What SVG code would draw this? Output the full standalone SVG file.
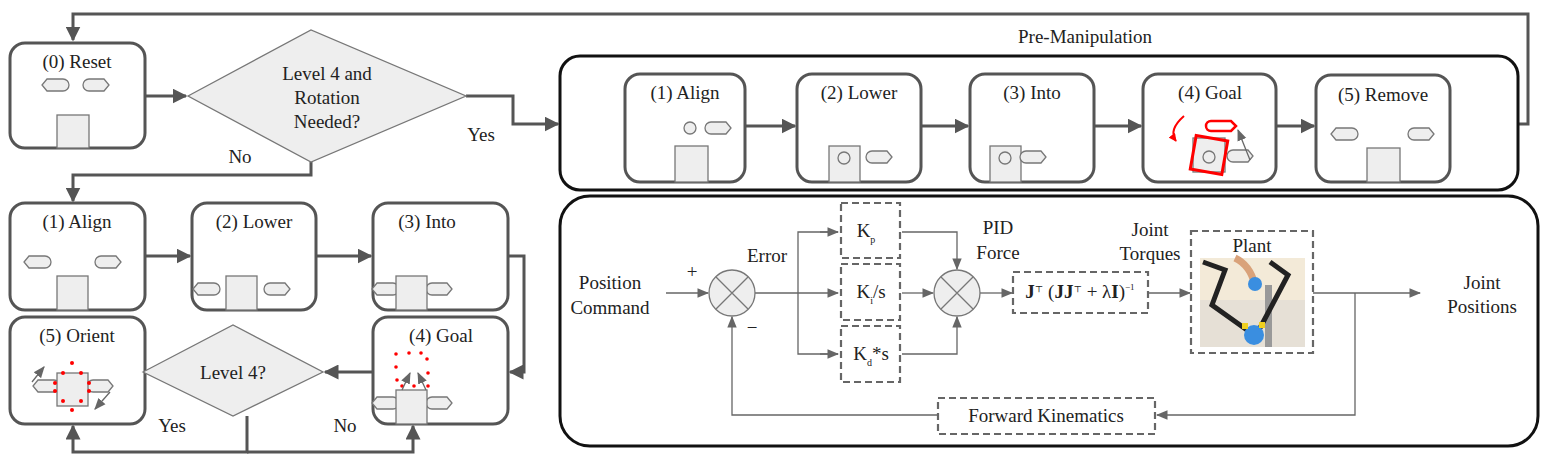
<svg xmlns="http://www.w3.org/2000/svg" width="1557" height="468" viewBox="0 0 1557 468" font-family="'Liberation Serif','DejaVu Serif','Times New Roman',serif">
<defs>
<style>
text{font-family:'Liberation Serif','DejaVu Serif','Times New Roman',serif;fill:#222;font-size:19px;text-anchor:middle}
.node{fill:#fff;stroke:#555;stroke-width:3}
.blk{fill:#eee;stroke:#777;stroke-width:1.3}
.conn{fill:none;stroke:#555;stroke-width:3}
.thin{fill:none;stroke:#666;stroke-width:1.3}
.dash{fill:#fff;stroke:#666;stroke-width:2.2;stroke-dasharray:7 4}
.dia{fill:#eee;stroke:#777;stroke-width:1.3}
.red{fill:red}
</style>
<marker id="ah" viewBox="0 0 10 10" refX="9" refY="5" markerWidth="5" markerHeight="5" orient="auto"><path d="M0,0L10,5L0,10z" fill="#555"/></marker>
<marker id="as" viewBox="0 0 10 10" refX="9" refY="5" markerWidth="9" markerHeight="9" orient="auto"><path d="M0,1L10,5L0,9z" fill="#666"/></marker>
<marker id="ar" viewBox="0 0 10 10" refX="9" refY="5" markerWidth="4" markerHeight="4" orient="auto"><path d="M0,0L10,5L0,10z" fill="red"/></marker>
<path id="gl" d="M5,0H21A6,6 0 0 1 21,12H5L0,6Z" class="blk"/>
<path id="gr" d="M5,0H20L25,6L20,12H5A6,6 0 0 1 5,0Z" class="blk"/>
</defs>

<g id="connectors">
<polyline class="conn" points="1518,124 1528,124 1528,14 73,14 73,40" marker-end="url(#ah)"/>
<line class="conn" x1="145" y1="96" x2="186" y2="96" marker-end="url(#ah)"/>
<polyline class="conn" points="466,96 513,96 513,124 558,124" marker-end="url(#ah)"/>
<polyline class="conn" points="311,162 311,175 73,175 73,201" marker-end="url(#ah)"/>
<line class="conn" x1="145" y1="256" x2="190" y2="256" marker-end="url(#ah)"/>
<line class="conn" x1="316" y1="256" x2="371" y2="256" marker-end="url(#ah)"/>
<polyline class="conn" points="508,256 524,256 524,372 510,372" marker-end="url(#ah)"/>
<line class="conn" x1="373" y1="372" x2="325" y2="372" marker-end="url(#ah)"/>
<polyline class="conn" points="247,416 247,452 73,452 73,426" marker-end="url(#ah)"/>
<polyline class="conn" points="247,452 413,452 413,426" marker-end="url(#ah)"/>
<line class="conn" x1="745" y1="126" x2="795" y2="126" marker-end="url(#ah)"/>
<line class="conn" x1="921" y1="126" x2="968" y2="126" marker-end="url(#ah)"/>
<line class="conn" x1="1094" y1="126" x2="1141" y2="126" marker-end="url(#ah)"/>
<line class="conn" x1="1276" y1="126" x2="1314" y2="126" marker-end="url(#ah)"/>
<line class="thin" x1="666" y1="293" x2="708" y2="293" marker-end="url(#as)"/>
<line class="thin" x1="755" y1="293" x2="838" y2="293" marker-end="url(#as)"/>
<polyline class="thin" points="838,232 798,232 798,354 838,354"/>
<line class="thin" x1="820" y1="232" x2="838" y2="232" marker-end="url(#as)"/>
<line class="thin" x1="820" y1="354" x2="838" y2="354" marker-end="url(#as)"/>
<polyline class="thin" points="902,232 957,232 957,269" marker-end="url(#as)"/>
<line class="thin" x1="902" y1="293" x2="933" y2="293" marker-end="url(#as)"/>
<polyline class="thin" points="902,354 957,354 957,317" marker-end="url(#as)"/>
<line class="thin" x1="980" y1="293" x2="1012" y2="293" marker-end="url(#as)"/>
<line class="thin" x1="1148" y1="293" x2="1190" y2="293" marker-end="url(#as)"/>
<line class="thin" x1="1313" y1="293" x2="1420" y2="293" marker-end="url(#as)"/>
<polyline class="thin" points="1355,293 1355,415 1157,415" marker-end="url(#as)"/>
<polyline class="thin" points="938,415 732,415 732,317" marker-end="url(#as)"/>
</g>

<g id="n0"><rect class="node" x="10" y="43" width="135" height="105" rx="15"/><text x="77" y="68">(0) Reset</text>
<use href="#gl" x="42" y="79"/><use href="#gr" x="84" y="79"/><rect class="blk" x="57" y="115" width="32" height="33"/></g>
<g id="d1"><polygon class="dia" points="188,96 311,30 466,96 311,162"/><text x="327" y="80">Level 4 and</text><text x="327" y="104">Rotation</text><text x="327" y="128">Needed?</text></g>
<text x="481" y="141">Yes</text><text x="240" y="163">No</text>

<g id="l1"><rect class="node" x="10" y="203" width="135" height="107" rx="15"/><text x="77" y="228">(1) Align</text>
<use href="#gl" x="24" y="256"/><use href="#gr" x="96" y="256"/><rect class="blk" x="57" y="276" width="31" height="34"/></g>
<g id="l2"><rect class="node" x="192" y="203" width="124" height="107" rx="15"/><text x="254" y="228">(2) Lower</text>
<use href="#gl" x="193" y="283"/><use href="#gr" x="265" y="283"/><rect class="blk" x="226" y="276" width="31" height="34"/></g>
<g id="l3"><rect class="node" x="373" y="203" width="135" height="107" rx="15"/><text x="427" y="228">(3) Into</text>
<use href="#gl" x="372" y="283"/><use href="#gr" x="427" y="283"/><rect class="blk" x="396" y="276" width="31" height="34"/></g>
<g id="l4"><rect class="node" x="373" y="317" width="135" height="107" rx="15"/><text x="441" y="342">(4) Goal</text>
<use href="#gl" x="372" y="397"/><use href="#gr" x="427" y="397"/><rect class="blk" x="396" y="390" width="31" height="34"/>
<g class="red"><circle cx="396" cy="354" r="1.8"/><circle cx="409" cy="353" r="1.8"/><circle cx="421" cy="353" r="1.8"/><circle cx="427" cy="359" r="1.8"/><circle cx="396" cy="367" r="1.8"/><circle cx="428" cy="373" r="1.8"/><circle cx="397" cy="380" r="1.8"/><circle cx="402" cy="386" r="1.8"/><circle cx="414" cy="386" r="1.8"/><circle cx="428" cy="386" r="1.8"/></g>
<line class="thin" x1="402" y1="390" x2="410" y2="373" marker-end="url(#as)"/><line class="thin" x1="426" y1="390" x2="418" y2="373" marker-end="url(#as)"/></g>
<g id="l5"><rect class="node" x="10" y="317" width="135" height="107" rx="15"/><text x="77" y="342">(5) Orient</text>
<use href="#gl" x="33" y="380"/><use href="#gr" x="88" y="380"/><rect class="blk" x="57" y="373" width="31" height="33"/>
<g class="red"><circle cx="72" cy="363" r="2"/><circle cx="63" cy="373" r="2"/><circle cx="81" cy="373" r="2"/><circle cx="55" cy="383" r="2"/><circle cx="89" cy="383" r="2"/><circle cx="55" cy="391" r="2"/><circle cx="89" cy="391" r="2"/><circle cx="63" cy="401" r="2"/><circle cx="81" cy="401" r="2"/><circle cx="72" cy="410" r="2"/></g>
<line class="thin" x1="32" y1="382" x2="44" y2="367" marker-end="url(#as)"/><line class="thin" x1="110" y1="392" x2="95" y2="409" marker-end="url(#as)"/></g>
<g id="d2"><polygon class="dia" points="143,372 233,325 323,372 233,416"/><text x="233" y="379">Level 4?</text></g>
<text x="172" y="432">Yes</text><text x="345" y="432">No</text>

<text x="1085" y="43">Pre-Manipulation</text>
<g id="pre"><rect x="560" y="56" width="958" height="134" rx="20" fill="none" stroke="#111" stroke-width="3"/>
<g id="p1"><rect class="node" x="625" y="74" width="120" height="108" rx="15"/><text x="685" y="99">(1) Align</text>
<circle class="blk" cx="690" cy="128" r="6"/><use href="#gr" x="706" y="122"/><rect class="blk" x="675" y="146" width="33" height="36"/></g>
<g id="p2"><rect class="node" x="797" y="74" width="124" height="108" rx="15"/><text x="859" y="99">(2) Lower</text>
<rect class="blk" x="829" y="146" width="31" height="36"/><circle class="blk" cx="844" cy="158" r="6"/><use href="#gr" x="867" y="151"/></g>
<g id="p3"><rect class="node" x="970" y="74" width="124" height="108" rx="15"/><text x="1032" y="99">(3) Into</text>
<rect class="blk" x="990" y="146" width="31" height="36"/><circle class="blk" cx="1005" cy="158" r="6"/><use href="#gr" x="1021" y="151"/></g>
<g id="p4"><rect class="node" x="1143" y="74" width="133" height="108" rx="15"/><text x="1210" y="99">(4) Goal</text>
<use href="#gr" x="1228" y="150"/><rect class="blk" x="1193" y="138" width="32" height="34"/>
<rect x="1193" y="138" width="32" height="34" fill="none" stroke="red" stroke-width="3" transform="rotate(10 1209 155)"/><circle class="blk" cx="1209" cy="157" r="6"/>
<path d="M1211,121H1231L1236,126L1231,131H1211A5,5 0 0 1 1211,121Z" fill="#fff" stroke="red" stroke-width="2.5"/>
<line class="thin" x1="1250" y1="160" x2="1238" y2="130" marker-end="url(#as)"/>
<path d="M1184,116Q1168,130 1176,141" fill="none" stroke="red" stroke-width="2" marker-end="url(#ar)"/></g>
<g id="p5"><rect class="node" x="1316" y="75" width="134" height="107" rx="15"/><text x="1383" y="101">(5) Remove</text>
<use href="#gl" x="1331" y="128"/><use href="#gr" x="1409" y="128"/><rect class="blk" x="1367" y="148" width="33" height="34"/></g>
</g>

<g id="ctrl"><rect x="560" y="196" width="978" height="250" rx="30" fill="none" stroke="#111" stroke-width="3"/>
<text x="610" y="289">Position</text><text x="610" y="314">Command</text>
<text x="692" y="278" font-size="24">+</text><text x="752" y="334" font-size="20">−</text>
<text x="767" y="262">Error</text>
<g id="sum1"><circle cx="732" cy="293" r="23" fill="#eee" stroke="#777" stroke-width="1.3"/><path d="M716,277L748,309M748,277L716,309" stroke="#777" stroke-width="1.3"/></g>
<g id="kp"><rect class="dash" x="841" y="203" width="59" height="55"/><text x="866" y="237">K<tspan font-size="10" dy="6">p</tspan></text></g>
<g id="ki"><rect class="dash" x="841" y="264" width="59" height="56"/><text x="871" y="298">K<tspan font-size="10" dy="6">i</tspan><tspan dy="-6">/s</tspan></text></g>
<g id="kd"><rect class="dash" x="841" y="326" width="59" height="56"/><text x="871" y="360">K<tspan font-size="10" dy="6">d</tspan><tspan dy="-6">*s</tspan></text></g>
<g id="sum2"><circle cx="957" cy="293" r="23" fill="#eee" stroke="#777" stroke-width="1.3"/><path d="M941,277L973,309M973,277L941,309" stroke="#777" stroke-width="1.3"/></g>
<text x="998" y="234">PID</text><text x="998" y="259">Force</text>
<g id="jac"><rect class="dash" x="1013" y="272" width="135" height="41"/><text x="1080" y="298" font-size="15"><tspan font-weight="bold">J</tspan><tspan font-size="9" dy="-6">⊤</tspan><tspan dy="6"> (</tspan><tspan font-weight="bold">JJ</tspan><tspan font-size="9" dy="-6">⊤</tspan><tspan dy="6"> + λ</tspan><tspan font-weight="bold">I</tspan><tspan>)</tspan><tspan font-size="9" dy="-8">−1</tspan></text></g>
<text x="1150" y="236">Joint</text><text x="1150" y="260">Torques</text>
<g id="plant"><rect class="dash" x="1191" y="231" width="122" height="122"/><text x="1252" y="252">Plant</text>
<rect x="1200" y="258" width="105" height="89" fill="#f3ead8"/><rect x="1200" y="300" width="105" height="47" fill="#e6e0d6"/>
<rect x="1265" y="285" width="7" height="62" fill="#999"/>
<path d="M1203,262L1225,270L1212,305L1247,330M1270,262L1288,275L1260,328" fill="none" stroke="#222" stroke-width="5"/>
<path d="M1235,258Q1250,265 1255,285" fill="none" stroke="#d9a27a" stroke-width="7"/>
<circle cx="1255" cy="284" r="7" fill="#3a8ee0"/><circle cx="1254" cy="335" r="10" fill="#3a8ee0"/>
<rect x="1242" y="323" width="6" height="6" fill="#f0d020"/><rect x="1259" y="322" width="6" height="6" fill="#f0d020"/></g>
<text x="1482" y="289">Joint</text><text x="1482" y="313">Positions</text>
<g id="fk"><rect class="dash" x="938" y="398" width="217" height="36"/><text x="1046" y="422" font-size="17">Forward Kinematics</text></g>
</g>
</svg>
